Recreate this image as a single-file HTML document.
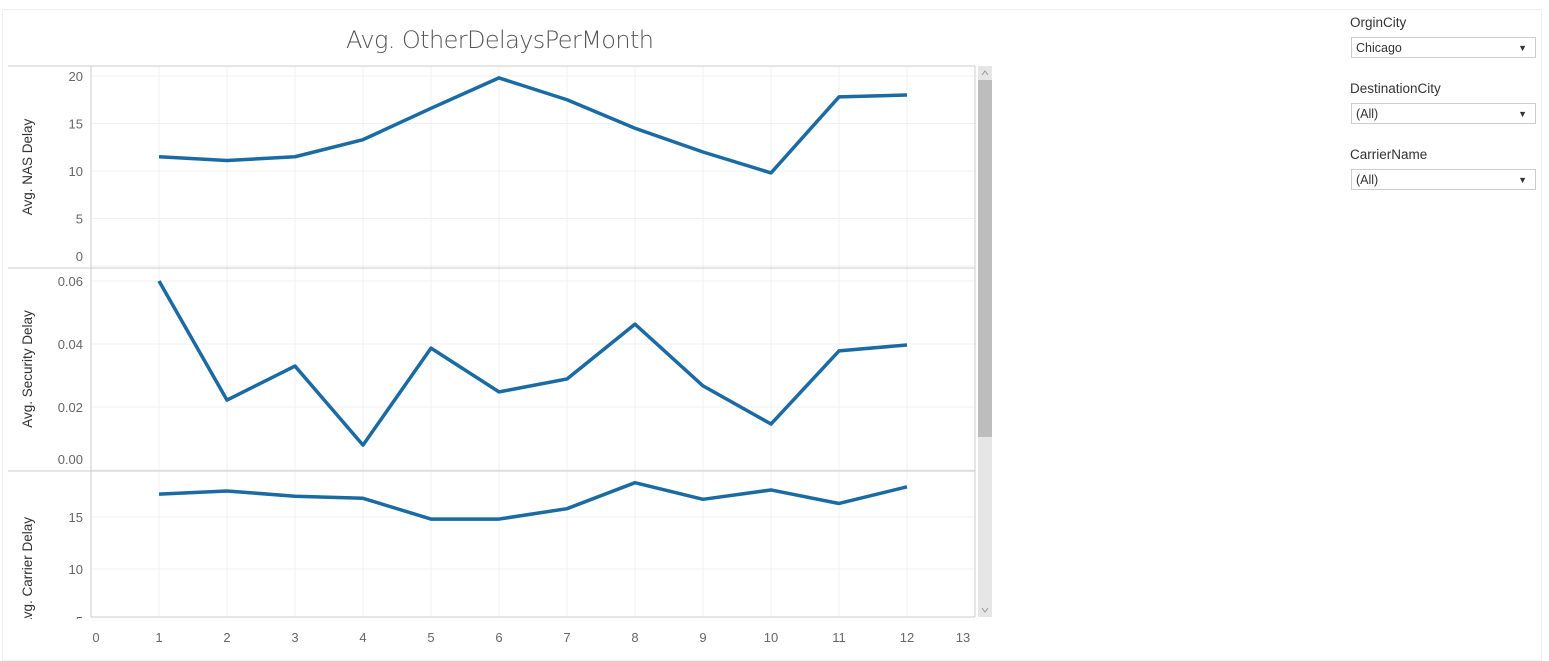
<!DOCTYPE html>
<html><head><meta charset="utf-8"><style>
body{margin:0;width:1549px;height:651px;background:#fff;overflow:hidden;font-family:"Liberation Sans",sans-serif;position:relative}
.frame{position:absolute;left:2px;top:9px;width:1538px;height:650px;border:1px solid #eee}
.flabel{position:absolute;left:1350px;font-size:13.5px;color:#333}
.fbox{position:absolute;left:1351px;height:21px;border:1px solid #ccc;font-size:12.5px;color:#333;line-height:21px;padding-left:4px;box-sizing:border-box;width:185px}
.fbox span{position:absolute;right:8px;top:0;font-size:9px}
</style></head><body>
<div class="frame"></div>
<div class="flabel" style="top:15px">OrginCity</div>
<div class="fbox" style="top:37px">Chicago<span>▼</span></div>
<div class="flabel" style="top:81px">DestinationCity</div>
<div class="fbox" style="top:103px">(All)<span>▼</span></div>
<div class="flabel" style="top:147px">CarrierName</div>
<div class="fbox" style="top:169px">(All)<span>▼</span></div>
<svg id="chart" width="1000" height="651" style="position:absolute;left:0;top:0"></svg>
<script>
const months=[1,2,3,4,5,6,7,8,9,10,11,12];
const nasDelay=[11.5,11.1,11.5,13.3,16.6,19.8,17.5,14.5,12.0,9.8,17.8,18.0];
const securityDelay=[0.060,0.0222,0.0330,0.0079,0.0387,0.0248,0.0289,0.0463,0.0267,0.0146,0.0378,0.0397];
const carrierDelay=[17.2,17.5,17.0,16.8,14.8,14.8,15.8,18.3,16.7,17.6,16.3,17.9];
const xTicks=[0,1,2,3,4,5,6,7,8,9,10,11,12,13];
const nasTicks=[0,5,10,15,20];
const secTicks=[0,0.02,0.04,0.06];
const carTicks=[5,10,15];
const svg=document.getElementById('chart');
const NS='http://www.w3.org/2000/svg';
function el(t,a,p){const e=document.createElementNS(NS,t);for(const k in a)e.setAttribute(k,a[k]);(p||svg).appendChild(e);return e;}
const L=91,R=975;
const xs=v=>L+v*68;
const panels=[
 {name:'nas',top:66,bot:268,data:nasDelay,ticks:nasTicks,y:v=>266-9.5*v,fmt:v=>String(v),title:'Avg. NAS Delay',ty:167},
 {name:'security',top:268,bot:471,data:securityDelay,ticks:secTicks,y:v=>470-3150*v,fmt:v=>v.toFixed(2),title:'Avg. Security Delay',ty:369},
 {name:'carrier',top:471,bot:617,data:carrierDelay,ticks:carTicks,y:v=>673-10.4*v,fmt:v=>String(v),title:'Avg. Carrier Delay',ty:572}
];
const t=el('text',{x:500,y:48,'text-anchor':'middle','font-size':24,fill:'#555','font-family':'DejaVu Sans, sans-serif','font-weight':'200','textLength':308});
t.textContent='Avg. OtherDelaysPerMonth';


const clip=el('clipPath',{id:'pc'});el('rect',{x:L,y:66,width:R-L,height:551},clip);
const clip2=el('clipPath',{id:'lc'});el('rect',{x:0,y:66,width:L,height:553},clip2);
const leftG=el('g',{'clip-path':'url(#lc)'});
xTicks.forEach(v=>{const g=el('line',{x1:xs(v),x2:xs(v),y1:66,y2:617,stroke:'#f0f0f0'});
 
 const tx=el('text',{x:xs(v)+(v==0?5:v==13?-12:0),y:642,'text-anchor':'middle','font-size':13,fill:'#666'});tx.textContent=v;
 });
panels.forEach(p=>{
 p.ticks.forEach(v=>{const yy=p.y(v);if(yy<p.bot&&yy>p.top){const g=el('line',{x1:L,x2:R,y1:yy,y2:yy,stroke:'#f0f0f0'});
  }
  let ly=p.name=='carrier'?yy+5:Math.min(yy+5,p.bot-7);
  const tx=el('text',{x:83,y:ly,'text-anchor':'end','font-size':13,fill:'#666'},leftG);tx.textContent=p.fmt(v);
  });
 const at=el('text',{x:0,y:0,transform:`translate(32,${p.ty}) rotate(-90)`,'text-anchor':'middle','font-size':13.5,fill:'#333'},leftG);
 at.textContent=p.title;
 const pts=p.data.map((d,i)=>xs(months[i])+','+p.y(d)).join(' ');
 const pl=el('polyline',{points:pts,fill:'none',stroke:'#1a6aa3','stroke-width':3.5,'stroke-linejoin':'round','clip-path':'url(#pc)'});
 
 el('line',{x1:8,x2:R,y1:p.top,y2:p.top,stroke:'#ccc'});
});
el('line',{x1:L,x2:L,y1:66,y2:617,stroke:'#ccc'});
el('line',{x1:R,x2:R,y1:66,y2:617,stroke:'#ccc'});
el('line',{x1:L,x2:R,y1:617,y2:617,stroke:'#ccc'});
const trk=el('rect',{x:978,y:66,width:14,height:551,fill:'#e6e6e6'});

const th=el('rect',{x:978,y:80,width:14,height:357,fill:'#bdbdbd'});

el('path',{d:'M982 75 L985 71 L988 75',stroke:'#999',fill:'none'});
el('path',{d:'M982 608 L985 612 L988 608',stroke:'#999',fill:'none'});
</script>
</body></html>
